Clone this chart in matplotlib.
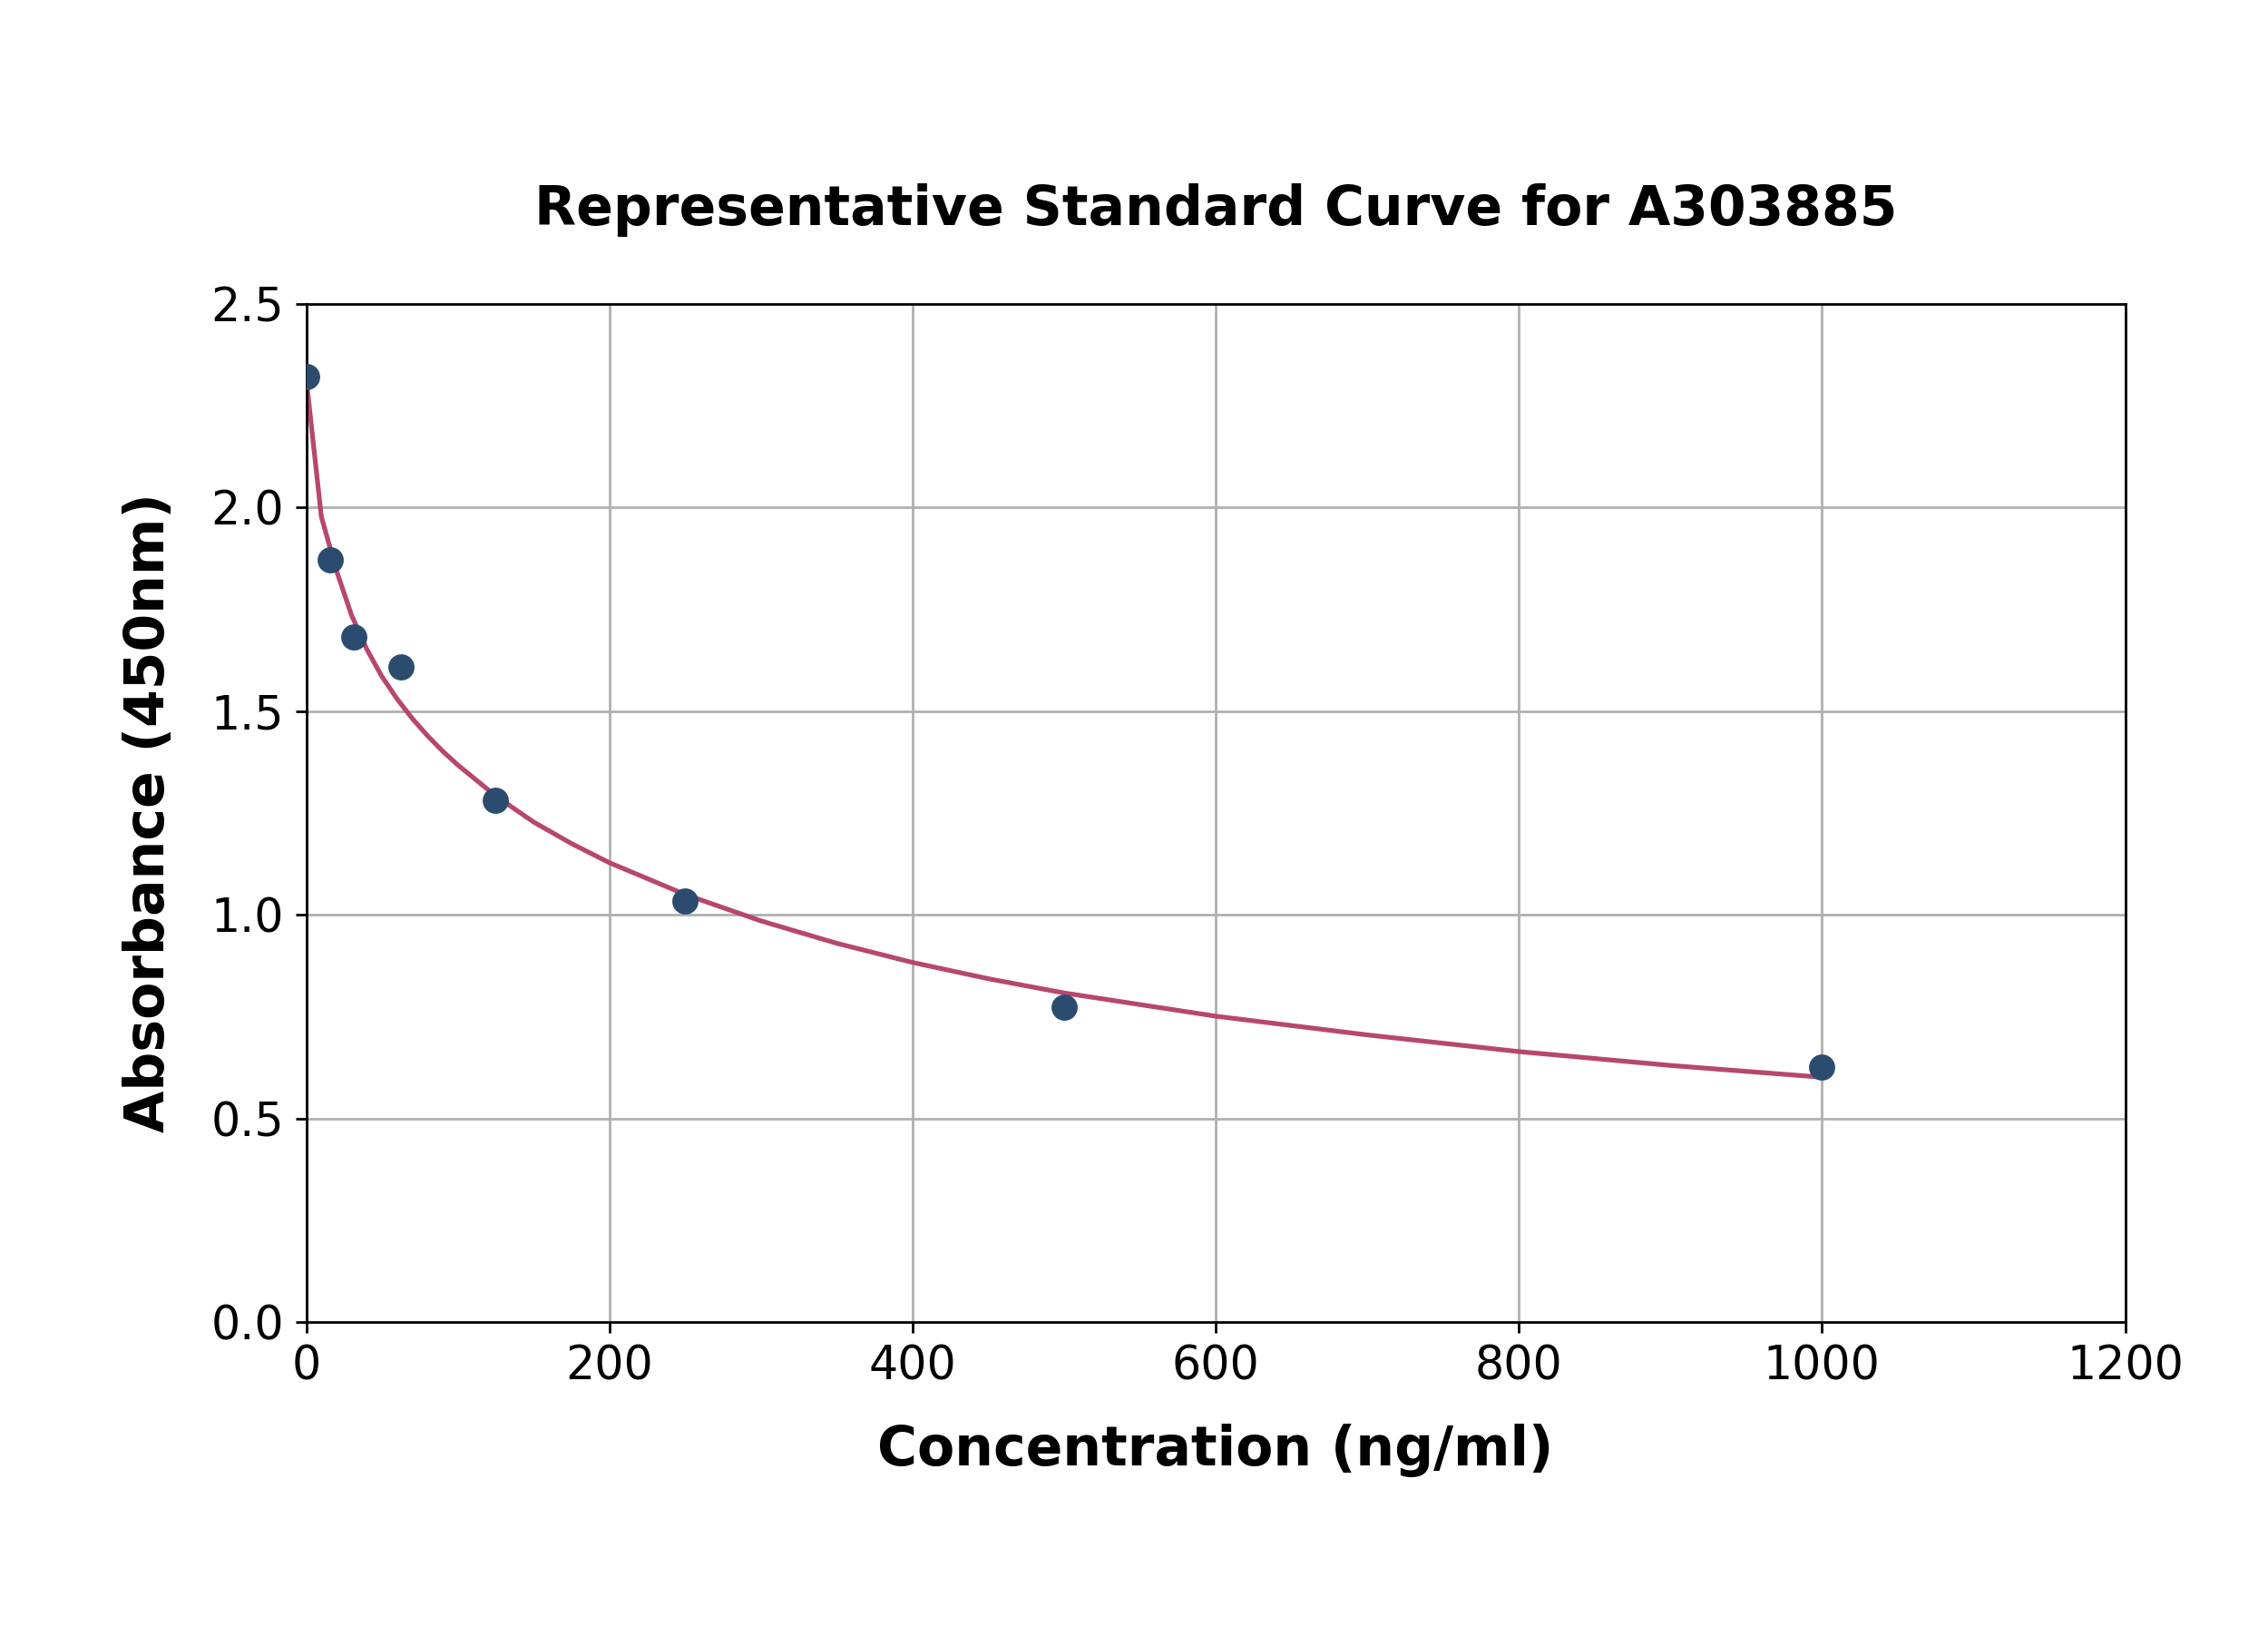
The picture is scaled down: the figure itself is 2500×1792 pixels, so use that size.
import matplotlib
matplotlib.use("Agg")
import matplotlib.pyplot as plt

# Standard points
conc = [0, 15.625, 31.25, 62.5, 125, 250, 500, 1000]
absorbance = [2.323, 1.871, 1.682, 1.608, 1.282, 1.033, 0.773, 0.627]

# Fitted curve
curve_x = [0, 10, 20, 30, 40, 50, 60, 70, 80, 90, 100, 125, 150, 175, 200, 250,
           300, 350, 400, 450, 500, 600, 700, 800, 900, 1000]
curve_y = [2.318, 1.978, 1.845, 1.735, 1.652, 1.585, 1.530, 1.482, 1.440, 1.402,
           1.368, 1.292, 1.228, 1.175, 1.128, 1.050, 0.985, 0.930, 0.883, 0.843,
           0.808, 0.751, 0.705, 0.664, 0.630, 0.601]

xticks = [0, 200, 400, 600, 800, 1000, 1200]
yticks = [0.0, 0.5, 1.0, 1.5, 2.0, 2.5]

fig = plt.figure(figsize=(10, 7.168), dpi=250)
ax = fig.add_axes([0.135, 0.187, 0.802, 0.626])

ax.plot(curve_x, curve_y, color="#b7476e", lw=1.5, zorder=2)
ax.plot(conc, absorbance, "o", color="#2b4c6f", ms=7.3, zorder=3)

ax.set_xlim(0, 1200)
ax.set_ylim(0, 2.5)
ax.set_xticks(xticks)
ax.set_yticks(yticks)
ax.set_yticklabels([f"{v:.1f}" for v in yticks])
ax.tick_params(labelsize=14.6)
ax.grid(True, color="#b0b0b0", lw=0.8)
ax.set_axisbelow(True)

ax.set_xlabel("Concentration (ng/ml)", fontsize=17.3, fontweight="bold", labelpad=11)
ax.set_ylabel("Absorbance (450nm)", fontsize=17.3, fontweight="bold", labelpad=11)
ax.set_title("Representative Standard Curve for A303885", fontsize=17.3,
             fontweight="bold", pad=25)

fig.savefig("out.png", dpi=250)
